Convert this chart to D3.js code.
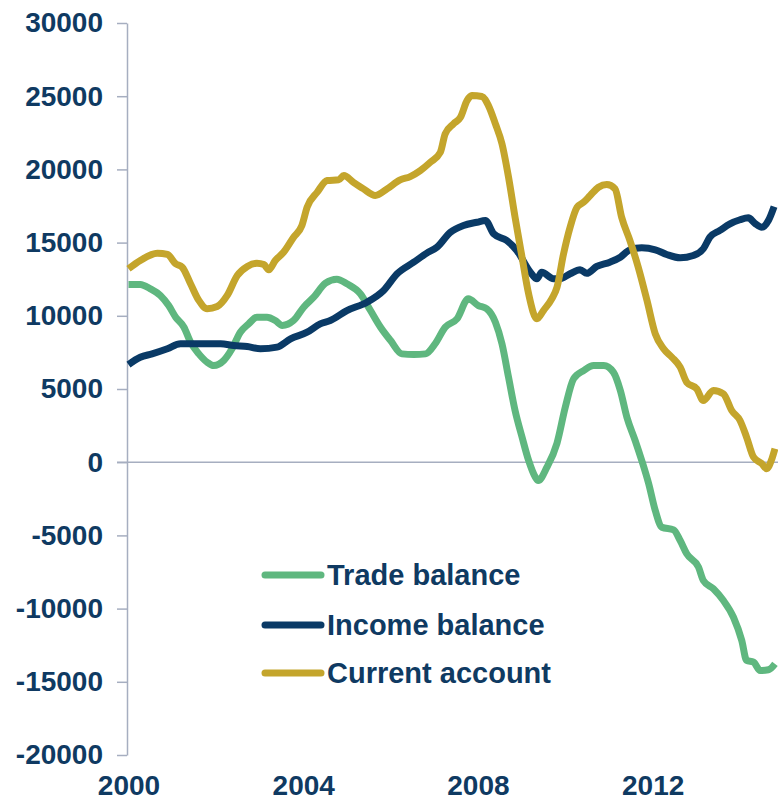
<!DOCTYPE html>
<html>
<head>
<meta charset="utf-8">
<script src="https://cdn.jsdelivr.net/npm/d3@7"></script>
<style>
  body { margin: 0; background: #fff; }
  svg text { font-family: "Liberation Sans", Arial, sans-serif; font-weight: bold; fill: #0f3a62; }
</style>
</head>
<body>
<svg width="778" height="802"></svg>
<script>
// values, decimal years
const tradeYears = [2000, 2000.27, 2000.5, 2000.73, 2000.92, 2001.08, 2001.27, 2001.42, 2001.61, 2001.8, 2001.95,
  2002.18, 2002.37, 2002.56, 2002.75, 2002.94, 2003.17, 2003.36, 2003.52, 2003.78, 2004.01, 2004.24, 2004.51, 2004.77,
  2005, 2005.31, 2005.54, 2005.77, 2006, 2006.26, 2006.53, 2006.8, 2007.02, 2007.25, 2007.52, 2007.78, 2008.01, 2008.2,
  2008.4, 2008.55, 2008.7, 2008.85, 2009.01, 2009.16, 2009.31, 2009.38, 2009.58, 2009.81, 2010, 2010.19, 2010.42,
  2010.65, 2010.88, 2011.1, 2011.26, 2011.41, 2011.6, 2011.75, 2011.91, 2012.06, 2012.21, 2012.48, 2012.63, 2012.78,
  2013.05, 2013.16, 2013.39, 2013.62, 2013.85, 2014.04, 2014.15, 2014.31, 2014.46, 2014.65, 2014.8];
const tradeValues = [12140, 12140, 11840, 11390, 10700, 9900, 9220, 8200, 7400, 6830, 6600,
  6950, 7750, 8880, 9450, 9900, 9900, 9680, 9340, 9680, 10590, 11270, 12230, 12500,
  12190, 11500, 10360, 9220, 8310, 7400, 7360, 7400, 8090, 9220, 9790, 11160, 10700, 10480,
  9560, 8090, 5810, 3530, 1710, 120, -1000, -1250, -340, 1300, 3760, 5700, 6260,
  6600, 6600, 6150, 4900, 3070, 1480, 120, -1480, -3300, -4440, -4620, -5350, -6260,
  -7170, -8080, -8650, -9450, -10590, -12180, -13540, -13660, -14230, -14180, -13770];

const incomeYears = [2000, 2000.27, 2000.54, 2000.89, 2001.19, 2001.57, 2002.11, 2002.41, 2002.72, 2003.02, 2003.4,
  2003.71, 2004.09, 2004.39, 2004.62, 2005, 2005.46, 2005.84, 2006.15, 2006.53, 2006.83, 2007.06, 2007.37, 2007.67,
  2007.98, 2008.17, 2008.36, 2008.66, 2008.89, 2009.2, 2009.35, 2009.46, 2009.73, 2009.88, 2010.11, 2010.34, 2010.49,
  2010.72, 2011.02, 2011.26, 2011.48, 2011.75, 2012.06, 2012.32, 2012.63, 2012.93, 2013.16, 2013.31, 2013.54, 2013.77,
  2014, 2014.19, 2014.34, 2014.5, 2014.65, 2014.78];
const incomeValues = [6670, 7170, 7400, 7750, 8090, 8090, 8090, 7970, 7900, 7750, 7860,
  8430, 8880, 9450, 9680, 10360, 10930, 11730, 12870, 13660, 14280, 14680, 15710, 16170,
  16390, 16510, 15600, 15140, 14460, 12980, 12530, 12980, 12530, 12530, 12870, 13140, 12900,
  13370, 13660, 14000, 14510, 14640, 14510, 14190, 13960, 14120, 14580, 15370, 15830, 16280,
  16560, 16690, 16320, 16050, 16510, 17460];

const currentYears = [2000, 2000.27, 2000.66, 2000.89, 2001.08, 2001.23, 2001.42, 2001.61, 2001.8, 2002.03, 2002.26,
  2002.49, 2002.72, 2002.94, 2003.1, 2003.21, 2003.36, 2003.55, 2003.78, 2003.97, 2004.09, 2004.32, 2004.55, 2004.81,
  2004.93, 2005.15, 2005.38, 2005.65, 2005.92, 2006.22, 2006.45, 2006.68, 2006.91, 2007.14, 2007.25, 2007.44, 2007.6,
  2007.75, 2007.86, 2008.09, 2008.24, 2008.4, 2008.55, 2008.7, 2008.85, 2009.01, 2009.16, 2009.35, 2009.5, 2009.69,
  2009.81, 2009.96, 2010.11, 2010.27, 2010.42, 2010.57, 2010.76, 2010.95, 2011.14, 2011.29, 2011.48, 2011.67, 2011.87,
  2012.06, 2012.25, 2012.44, 2012.63, 2012.78, 2013.01, 2013.16, 2013.39, 2013.62, 2013.81, 2014, 2014.15, 2014.31,
  2014.5, 2014.61, 2014.73, 2014.8];
const currentValues = [13210, 13780, 14280, 14190, 13550, 13320, 12190, 11050, 10480, 10630, 11390,
  12750, 13370, 13590, 13500, 13140, 13780, 14340, 15370, 16170, 17420, 18440, 19240, 19290,
  19580, 19120, 18670, 18220, 18670, 19290, 19510, 19920, 20490, 21170, 22430, 23110, 23560,
  24700, 25040, 24980, 24360, 23110, 21750, 19470, 16730, 14000, 11500, 9790, 10360, 11160,
  11950, 14230, 16050, 17420, 17760, 18220, 18780, 18970, 18670, 16730, 15140, 13320, 11050,
  8770, 7750, 7170, 6490, 5460, 5010, 4210, 4900, 4670, 3530, 2850, 1710, 340,
  -110, -450, 230, 920];

const yTicks = [30000, 25000, 20000, 15000, 10000, 5000, 0, -5000, -10000, -15000, -20000];
const xTicks = [2000, 2004, 2008, 2012];

const series = [
  { name: "Trade balance", years: tradeYears, values: tradeValues, color: "#5fb77f" },
  { name: "Income balance", years: incomeYears, values: incomeValues, color: "#0a3a66" },
  { name: "Current account", years: currentYears, values: currentValues, color: "#c4a52c" }
];

const svg = d3.select("svg");
const axisColor = "#a6aec0";

const xScale = d3.scaleLinear().domain([2000, 2015]).range([128.5, 783.7]);
const yScale = d3.scaleLinear().domain([-20000, 30000]).range([755, 23]);

// y axis, plain hyphen for negatives
const yAxis = d3.axisLeft(yScale)
  .tickValues(yTicks)
  .tickFormat(d => String(d))
  .tickSize(10).tickSizeOuter(0).tickPadding(14);
const gy = svg.append("g").attr("transform", "translate(127,0)").call(yAxis);
gy.select(".domain").attr("stroke", axisColor).attr("stroke-width", 1.5);
gy.selectAll(".tick line").attr("stroke", axisColor).attr("stroke-width", 1.5);
gy.selectAll(".tick text").style("font-size", "28px").attr("fill", "#0f3a62");

// zero line
svg.append("line")
  .attr("x1", 117).attr("x2", 778)
  .attr("y1", yScale(0)).attr("y2", yScale(0))
  .attr("stroke", axisColor).attr("stroke-width", 1.5);

// x labels at bottom
const xAxis = d3.axisBottom(xScale).tickValues(xTicks).tickFormat(d3.format("d")).tickSize(0).tickPadding(20);
const gx = svg.append("g").attr("transform", "translate(0,755)").call(xAxis);
gx.select(".domain").remove();
gx.selectAll(".tick text").style("font-size", "28px").attr("fill", "#0f3a62");

// lines
const line = d3.line()
  .x(d => xScale(d[0]))
  .y(d => yScale(d[1]))
  .curve(d3.curveMonotoneX);

series.forEach(s => {
  const pts = s.years.map((y, i) => [y, s.values[i]]);
  svg.append("path")
    .datum(pts)
    .attr("fill", "none")
    .attr("stroke", s.color)
    .attr("stroke-width", 7)
    .attr("stroke-linejoin", "round")
    .attr("d", line);
});

// legend
const legendY = [575, 625, 673];
series.forEach((s, i) => {
  const g = svg.append("g").attr("transform", `translate(265,${legendY[i]})`);
  g.append("line")
    .attr("x1", 0).attr("x2", 56)
    .attr("stroke", s.color).attr("stroke-width", 7).attr("stroke-linecap", "round");
  g.append("text")
    .attr("x", 62).attr("dy", "0.35em")
    .style("font-size", "29px")
    .text(s.name);
});
</script>
</body>
</html>
